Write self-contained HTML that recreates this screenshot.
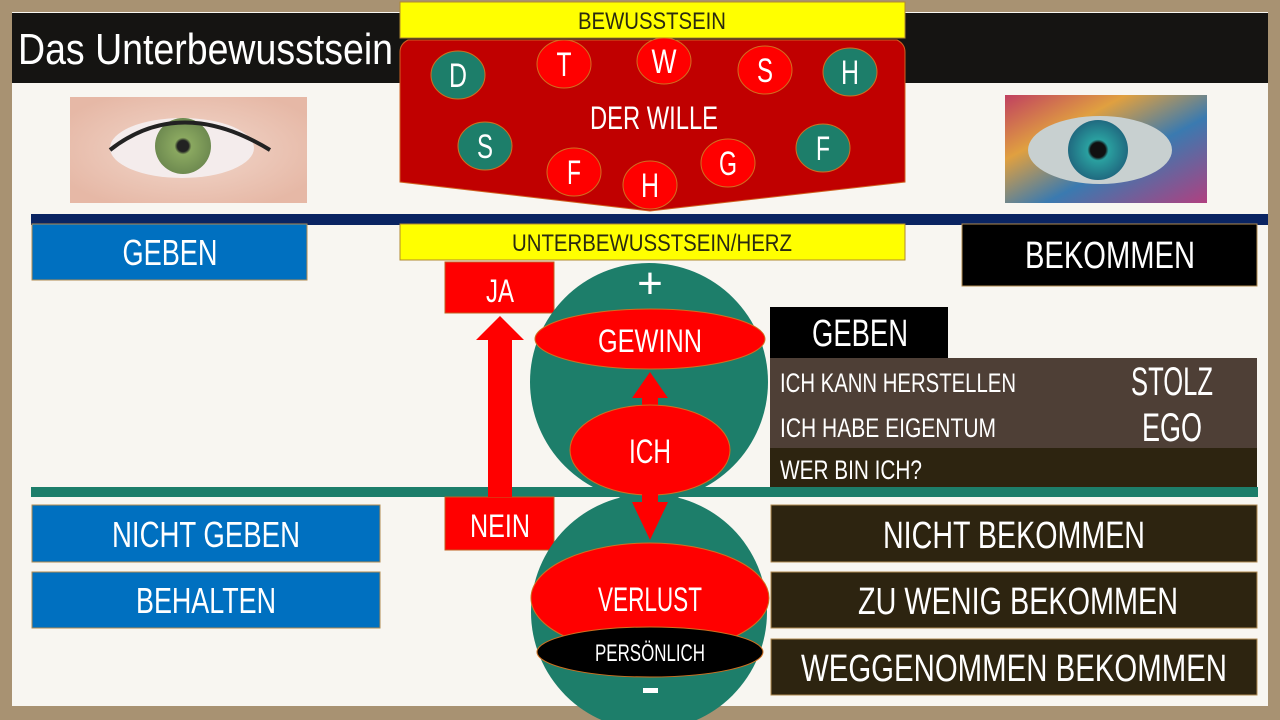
<!DOCTYPE html>
<html><head><meta charset="utf-8"><style>
html,body{margin:0;padding:0;width:1280px;height:720px;overflow:hidden;background:#a89272}
svg{display:block}
text{font-family:"Liberation Sans Narrow","Liberation Sans",sans-serif}
</style></head><body>
<svg width="1280" height="720" viewBox="0 0 1280 720" xmlns="http://www.w3.org/2000/svg">
<defs>
<radialGradient id="eye1" cx="0.5" cy="0.5" r="0.6"><stop offset="0" stop-color="#f2d8cc"/><stop offset="1" stop-color="#e6b8a6"/></radialGradient>
<radialGradient id="iris1"><stop offset="0.2" stop-color="#222"/><stop offset="0.3" stop-color="#8aa860"/><stop offset="1" stop-color="#6e8a50"/></radialGradient>
<linearGradient id="eye2" x1="0" x2="1" y1="0" y2="1"><stop offset="0" stop-color="#c04060"/><stop offset="0.3" stop-color="#e0a040"/><stop offset="0.6" stop-color="#3a7ab0"/><stop offset="1" stop-color="#b04080"/></linearGradient>
<radialGradient id="iris2"><stop offset="0.25" stop-color="#111"/><stop offset="0.35" stop-color="#2aa0a0"/><stop offset="1" stop-color="#206a80"/></radialGradient>
</defs>
<rect x="0" y="0" width="1280" height="720" fill="#a89272"/>
<rect x="12" y="12" width="1256" height="694" fill="#f8f6f1"/>
<rect x="12" y="13" width="1256" height="70" fill="#151412"/>
<text x="18" y="64" font-size="44" fill="#fff" textLength="375" lengthAdjust="spacingAndGlyphs">Das Unterbewusstsein</text>

<rect x="70" y="97" width="237" height="106" fill="url(#eye1)"/>
<ellipse cx="182" cy="148" rx="72" ry="30" fill="#f4ecec"/>
<circle cx="183" cy="146" r="28" fill="url(#iris1)"/>
<path d="M110 150 Q180 95 270 150" stroke="#222" stroke-width="4" fill="none"/>
<rect x="1005" y="95" width="202" height="108" fill="url(#eye2)"/>
<ellipse cx="1100" cy="150" rx="72" ry="34" fill="#c8d0d0"/>
<circle cx="1098" cy="150" r="30" fill="url(#iris2)"/>

<rect x="31" y="214" width="1237" height="11" fill="#0a2462"/>
<rect x="31" y="487" width="1227" height="10" fill="#1d7e6a"/>

<rect x="400" y="2" width="505" height="36" fill="#ffff00" stroke="#b08a30" stroke-width="1"/>
<text x="652" y="29" font-size="24" fill="#2a2a10" text-anchor="middle" textLength="148" lengthAdjust="spacingAndGlyphs">BEWUSSTSEIN</text>
<path d="M408 40 L897 40 Q905 44 905 52 L905 182 L650 211 L400 182 L400 52 Q400 44 408 40 Z" fill="#c00000" stroke="#d06020" stroke-width="1"/>
<g stroke="#d07020" stroke-width="1">
<ellipse cx="458" cy="75" rx="27" ry="24" fill="#1d7e6a"/>
<ellipse cx="564" cy="64" rx="27" ry="24" fill="#ff0000"/>
<ellipse cx="664" cy="61" rx="27" ry="23" fill="#ff0000"/>
<ellipse cx="765" cy="70" rx="27" ry="24" fill="#ff0000"/>
<ellipse cx="850" cy="72" rx="27" ry="24" fill="#1d7e6a"/>
<ellipse cx="485" cy="146" rx="27" ry="24" fill="#1d7e6a"/>
<ellipse cx="574" cy="172" rx="27" ry="24" fill="#ff0000"/>
<ellipse cx="650" cy="185" rx="27" ry="24" fill="#ff0000"/>
<ellipse cx="728" cy="163" rx="27" ry="24" fill="#ff0000"/>
<ellipse cx="823" cy="148" rx="27" ry="24" fill="#1d7e6a"/>
</g>
<g font-size="34" fill="#fff" text-anchor="middle" lengthAdjust="spacingAndGlyphs">
<text x="458" y="87" textLength="18" lengthAdjust="spacingAndGlyphs">D</text><text x="564" y="76" textLength="15" lengthAdjust="spacingAndGlyphs">T</text><text x="664" y="73" textLength="25" lengthAdjust="spacingAndGlyphs">W</text>
<text x="765" y="82" textLength="16" lengthAdjust="spacingAndGlyphs">S</text><text x="850" y="84" textLength="18" lengthAdjust="spacingAndGlyphs">H</text><text x="485" y="158" textLength="16" lengthAdjust="spacingAndGlyphs">S</text>
<text x="574" y="184" textLength="14" lengthAdjust="spacingAndGlyphs">F</text><text x="650" y="197" textLength="18" lengthAdjust="spacingAndGlyphs">H</text><text x="728" y="175" textLength="18" lengthAdjust="spacingAndGlyphs">G</text><text x="823" y="160" textLength="14" lengthAdjust="spacingAndGlyphs">F</text>
</g>
<text x="654" y="129" font-size="32" fill="#fff" text-anchor="middle" textLength="128" lengthAdjust="spacingAndGlyphs">DER WILLE</text>

<rect x="400" y="224" width="505" height="36" fill="#ffff00" stroke="#b08a30" stroke-width="1"/>
<text x="652" y="251" font-size="24" fill="#2a2a10" text-anchor="middle" textLength="280" lengthAdjust="spacingAndGlyphs">UNTERBEWUSSTSEIN/HERZ</text>

<rect x="32" y="224" width="275" height="56" fill="#0070c0" stroke="#b08a50"/>
<text x="170" y="265" font-size="36" fill="#fff" text-anchor="middle" textLength="95" lengthAdjust="spacingAndGlyphs">GEBEN</text>
<rect x="32" y="505" width="348" height="57" fill="#0070c0" stroke="#b08a50"/>
<text x="206" y="547" font-size="36" fill="#fff" text-anchor="middle" textLength="188" lengthAdjust="spacingAndGlyphs">NICHT GEBEN</text>
<rect x="32" y="572" width="348" height="56" fill="#0070c0" stroke="#b08a50"/>
<text x="206" y="613" font-size="36" fill="#fff" text-anchor="middle" textLength="140" lengthAdjust="spacingAndGlyphs">BEHALTEN</text>

<rect x="962" y="224" width="295" height="62" fill="#000" stroke="#b08a50"/>
<text x="1110" y="268" font-size="38" fill="#fff" text-anchor="middle" textLength="170" lengthAdjust="spacingAndGlyphs">BEKOMMEN</text>
<rect x="770" y="307" width="178" height="51" fill="#000"/>
<text x="860" y="346" font-size="38" fill="#fff" text-anchor="middle" textLength="96" lengthAdjust="spacingAndGlyphs">GEBEN</text>
<rect x="770" y="358" width="487" height="90" fill="#4e3f36"/>
<rect x="770" y="448" width="487" height="39" fill="#2d2410"/>
<text x="780" y="392" font-size="27" fill="#fff" textLength="236" lengthAdjust="spacingAndGlyphs">ICH KANN HERSTELLEN</text>
<text x="780" y="437" font-size="27" fill="#fff" textLength="216" lengthAdjust="spacingAndGlyphs">ICH HABE EIGENTUM</text>
<text x="780" y="479" font-size="27" fill="#fff" textLength="142" lengthAdjust="spacingAndGlyphs">WER BIN ICH?</text>
<text x="1172" y="395" font-size="40" fill="#fff" text-anchor="middle" textLength="82" lengthAdjust="spacingAndGlyphs">STOLZ</text>
<text x="1172" y="441" font-size="40" fill="#fff" text-anchor="middle" textLength="60" lengthAdjust="spacingAndGlyphs">EGO</text>

<rect x="771" y="505" width="486" height="57" fill="#2d2410" stroke="#b08a50"/>
<text x="1014" y="548" font-size="38" fill="#fff" text-anchor="middle" textLength="262" lengthAdjust="spacingAndGlyphs">NICHT BEKOMMEN</text>
<rect x="771" y="572" width="486" height="56" fill="#2d2410" stroke="#b08a50"/>
<text x="1018" y="614" font-size="38" fill="#fff" text-anchor="middle" textLength="320" lengthAdjust="spacingAndGlyphs">ZU WENIG BEKOMMEN</text>
<rect x="771" y="639" width="486" height="56" fill="#2d2410" stroke="#b08a50"/>
<text x="1014" y="681" font-size="38" fill="#fff" text-anchor="middle" textLength="426" lengthAdjust="spacingAndGlyphs">WEGGENOMMEN BEKOMMEN</text>

<rect x="445" y="262" width="109" height="51" fill="#ff0000" stroke="#c06020"/>
<text x="500" y="302" font-size="32" fill="#fff" text-anchor="middle" textLength="28" lengthAdjust="spacingAndGlyphs">JA</text>
<rect x="445" y="497" width="109" height="53" fill="#ff0000" stroke="#c06020"/>
<text x="500" y="537" font-size="32" fill="#fff" text-anchor="middle" textLength="60" lengthAdjust="spacingAndGlyphs">NEIN</text>
<path d="M488 497 L488 340 L476 340 L500 316 L524 340 L512 340 L512 497 Z" fill="#ff0000"/>

<circle cx="649" cy="382" r="119" fill="#1d7e6a"/>
<circle cx="649" cy="612" r="118" fill="#1d7e6a"/>
<text x="650" y="298" font-size="44" fill="#fff" text-anchor="middle">+</text>
<ellipse cx="650" cy="339" rx="115" ry="30" fill="#ff0000" stroke="#d07020"/>
<text x="650" y="352" font-size="32" fill="#fff" text-anchor="middle" textLength="104" lengthAdjust="spacingAndGlyphs">GEWINN</text>
<path d="M642 410 L642 398 L632 398 L650 372 L668 398 L658 398 L658 410 Z" fill="#ff0000"/>
<ellipse cx="650" cy="450" rx="80" ry="45" fill="#ff0000" stroke="#d07020"/>
<text x="650" y="463" font-size="34" fill="#fff" text-anchor="middle" textLength="42" lengthAdjust="spacingAndGlyphs">ICH</text>
<path d="M642 492 L642 502 L632 502 L650 540 L668 502 L658 502 L658 492 Z" fill="#ff0000"/>
<ellipse cx="650" cy="598" rx="119" ry="55" fill="#ff0000" stroke="#d07020"/>
<text x="650" y="611" font-size="34" fill="#fff" text-anchor="middle" textLength="104" lengthAdjust="spacingAndGlyphs">VERLUST</text>
<ellipse cx="650" cy="652" rx="113" ry="25" fill="#000" stroke="#d07020"/>
<text x="650" y="661" font-size="24" fill="#fff" text-anchor="middle" textLength="110" lengthAdjust="spacingAndGlyphs">PERSÖNLICH</text>
<rect x="643" y="688" width="15" height="5" fill="#fff"/>
</svg>
</body></html>
